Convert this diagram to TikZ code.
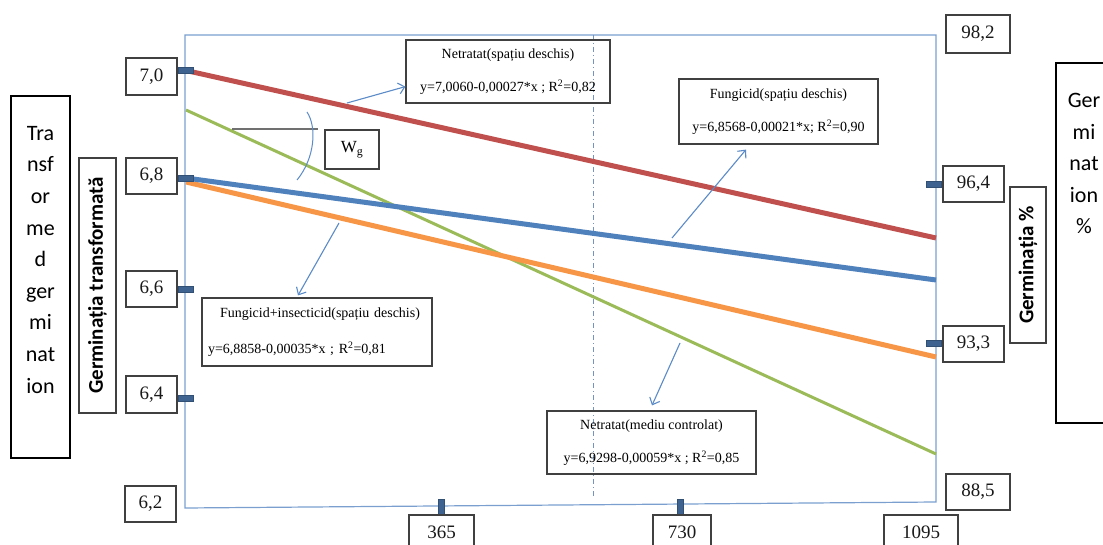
\documentclass[tikz,border=0pt]{standalone}
\usepackage{fontspec}
\setmainfont{Liberation Serif}
\newfontfamily\calib{Carlito}
\usetikzlibrary{arrows.meta,calc}
\definecolor{redl}{HTML}{C0504D}
\definecolor{bluel}{HTML}{4F81BD}
\definecolor{orangel}{HTML}{F79646}
\definecolor{greenl}{HTML}{9BBB59}
\definecolor{framec}{HTML}{7BA0D0}
\definecolor{gridc}{HTML}{7394C2}
\definecolor{arrowc}{HTML}{5B8BC8}
\definecolor{tickc}{HTML}{3F6391}
\definecolor{boxgray}{HTML}{404040}
\definecolor{anglec}{HTML}{707070}
\begin{document}
\begin{tikzpicture}[x=1pt,y=-1pt,
  valbox/.style={draw=boxgray, line width=1.2pt, inner sep=0pt, font=\fontsize{19}{22}\selectfont, text=black!90},
  annbox/.style={draw=boxgray, line width=1.2pt, inner sep=0pt, align=center, font=\fontsize{14}{33}\selectfont},
  outbox/.style={draw=black, line width=1.6pt, inner sep=0pt},
  outtext/.style={inner sep=0pt, align=center, font=\calib\fontsize{22}{31.6}\selectfont},
  axbox/.style={draw=boxgray, line width=1.2pt, inner sep=0pt, rotate=90, font=\calib\bfseries\fontsize{21}{24}\selectfont},
  trend/.style={line width=5pt},
  pointer/.style={arrowc, line width=1.1pt, -{Straight Barb[length=6pt,width=11pt]}},
  tick/.style={fill=tickc, draw=tickc!80!black, line width=0.4pt}
]
\useasboundingbox (0,0) rectangle (1103,545);
\fill[white] (0,0) rectangle (1103,545);
\clip (0,0) rectangle (1103,545);

% plot frame and mid line
\draw[framec, line width=1.2pt] (185,35) -- (936,35) -- (936,502) -- (185,508) -- cycle;
\draw[gridc, line width=1pt, dash pattern=on 5pt off 3pt on 1pt off 3pt] (593,35) -- (593,498);

% trend lines
\coordinate (gS) at (186,110);   \coordinate (gE) at (936,454);
\coordinate (oS) at (186,182);   \coordinate (oE) at (936,357);
\coordinate (rS) at (186,70.5);  \coordinate (rE) at (936,238);
\coordinate (bS) at (186,178);   \coordinate (bE) at (936,280);
\draw[greenl, line width=3pt] (gS) -- (gE);
\draw[orangel, trend] (oS) -- (oE);
\draw[redl, trend] (rS) -- (rE);
\draw[bluel, trend] (bS) -- (bE);

% ticks
\draw[tick] (178,67.5) rectangle (193,73);
\draw[tick] (178,175.5) rectangle (193,181);
\draw[tick] (178,286.5) rectangle (193,292);
\draw[tick] (178,395.5) rectangle (193,401);
\draw[tick] (926,181.5) rectangle (941,187);
\draw[tick] (926,340.5) rectangle (941,346);
\draw[tick] (438.5,499) rectangle (444,514);
\draw[tick] (677.5,499) rectangle (683,514);

% value boxes left
\node[valbox, minimum width=51, minimum height=37] (v70) at (151.5,76.5) {7,0};
\node[valbox, minimum width=51, minimum height=36] (v68) at (151.5,176) {6,8};
\node[valbox, minimum width=51, minimum height=36] (v66) at (151.5,289) {6,6};
\node[valbox, minimum width=51, minimum height=37] (v64) at (151.5,394.5) {6,4};
\node[valbox, minimum width=51, minimum height=36] (v62) at (150.5,504) {6,2};
% value boxes right
\node[valbox, minimum width=64, minimum height=38] (v982) at (978,34) {98,2};
\node[valbox, minimum width=61, minimum height=36] (v964) at (973.5,184) {96,4};
\node[valbox, minimum width=61, minimum height=36] (v933) at (973.5,344) {93,3};
\node[valbox, minimum width=64, minimum height=36] (v885) at (978,492) {88,5};
% value boxes bottom
\node[valbox, minimum width=65, minimum height=34] (d365) at (441.5,532) {365};
\node[valbox, minimum width=58, minimum height=34] (d730) at (682,532) {730};
\node[valbox, minimum width=74, minimum height=34] (d1095) at (921,532) {1095};

% axis titles
\node[axbox, minimum width=255, minimum height=37] (axL) at (97.5,285.5) {Germinația transformată};
\node[axbox, minimum width=156, minimum height=36] (axR) at (1028,265) {Germinația \%};

% outer titles
\node[outbox, minimum width=59, minimum height=362] (outL) at (40.5,277) {};
\node[outtext, anchor=north] (outLt) at (40.5,126) {Tra\\nsf\\or\\me\\d\\ger\\mi\\nat\\ion};
\node[outbox, minimum width=57, minimum height=360] (outR) at (1084.5,243) {};
\node[outtext, anchor=north] (outRt) at (1084,93) {Ger\\mi\\nat\\ion\\\%};

% annotation boxes
\node[annbox, minimum width=204, minimum height=63] (nb1) at (508,71.5)
  {Netratat(spațiu deschis)\\y=7,0060-0,00027*x ; R\textsuperscript{2}=0,82};
\node[annbox, minimum width=199, minimum height=65] (fb) at (778.5,111.5)
  {Fungicid(spațiu deschis)\\y=6,8568-0,00021*x; R\textsuperscript{2}=0,90};
\node[annbox, align=left, text width=218, inner xsep=6pt, minimum height=68,
      font=\fontsize{14}{36}\selectfont] (fib) at (317,332)
  {\hspace*{12pt}Fungicid+insecticid(spațiu deschis)\\y=6,8858-0,00035*x ; R\textsuperscript{2}=0,81};
\node[annbox, minimum width=209, minimum height=63] (nmb) at (651.5,442.5)
  {Netratat(mediu controlat)\\y=6,9298-0,00059*x ; R\textsuperscript{2}=0,85};
\node[draw=boxgray, line width=1.2pt, inner sep=0pt, minimum width=54, minimum height=39,
      font=\fontsize{17}{20}\selectfont] (wg) at (352,149.5) {W\textsubscript{g}};

% angle marker
\coordinate (wa) at (232,129);
\coordinate (wb) at (318,129);
\draw[anglec, line width=1.2pt] (wa) -- (wb);
\coordinate (arcS) at (307,112);
\coordinate (arcE) at (297,180);
\draw[arrowc, line width=1pt] (arcS) .. controls (317,127) and (315,158) .. (arcE);

% pointers
\coordinate (p1) at (347,103);
\coordinate (p2) at (672,238);
\coordinate (p3) at (339,223);
\coordinate (p4) at (680,343);
\draw[pointer] (p1) -- ($(nb1.south west)+(0,-17)$);
\draw[pointer] (p2) -- ($(fb.south)+(-32.5,5)$);
\draw[pointer] (p3) -- ($(fib.north)+(-19,-2)$);
\draw[pointer] (p4) -- ($(nmb.north)+(0.5,-5)$);
\end{tikzpicture}
\end{document}
